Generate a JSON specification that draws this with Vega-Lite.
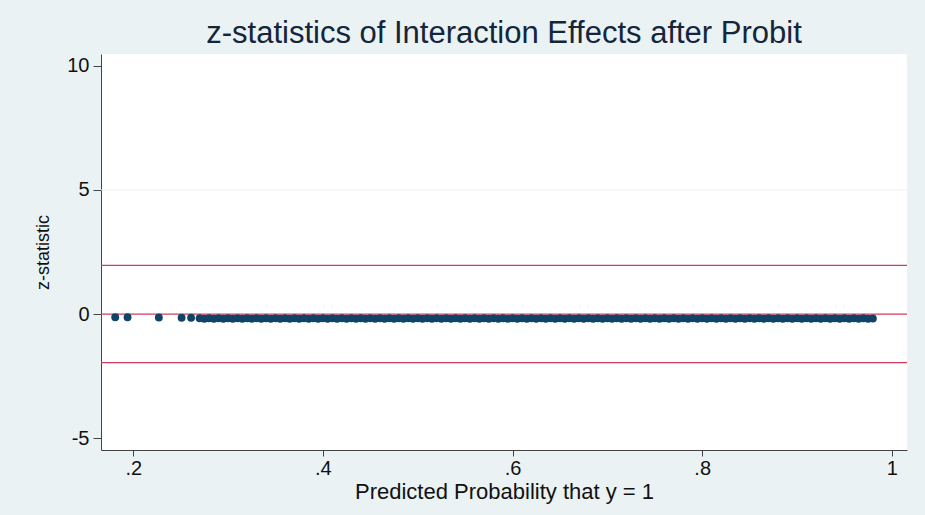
{
  "$schema": "https://vega.github.io/schema/vega-lite/v6.json",
  "autosize": {"type": "none"},
  "width": 806,
  "height": 396,
  "padding": {"left": 101, "top": 54, "right": 18, "bottom": 65},
  "background": "#eaf2f3",
  "title": {"text": "z-statistics of Interaction Effects after Probit", "font": "Liberation Sans", "fontSize": 31, "fontWeight": "normal", "color": "#14263b", "anchor": "middle", "offset": 4},
  "config": {
    "view": {"fill": "white", "stroke": null},
    "axis": {"labelFont": "Liberation Sans", "titleFont": "Liberation Sans", "labelColor": "#111", "titleColor": "#111", "domainColor": "#444", "tickColor": "#444", "titleFontWeight": "normal", "grid": false}
  },
  "layer": [
    {
      "data": {"values": [{"g": 5}]},
      "mark": {"type": "rule", "color": "#eaf2f3", "strokeWidth": 1},
      "encoding": {"y": {"field": "g", "type": "quantitative", "scale": {"domain": [-5.48, 10.48]}}}
    },
    {
      "data": {"values": [{"r": -1.96}, {"r": 0}, {"r": 1.96}]},
      "mark": {"type": "rule", "color": "#d23c5a", "strokeWidth": 1.3},
      "encoding": {"y": {"field": "r", "type": "quantitative"}}
    },
    {
      "data": {"values": [
        {"p": 0.181, "z": -0.13}, {"p": 0.194, "z": -0.13}, {"p": 0.227, "z": -0.14}, {"p": 0.251, "z": -0.15}, {"p": 0.261, "z": -0.15},
        {"p": 0.270, "z": -0.17}, {"p": 0.275, "z": -0.19}, {"p": 0.280, "z": -0.17}, {"p": 0.285, "z": -0.19}, {"p": 0.290, "z": -0.17},
        {"p": 0.295, "z": -0.19}, {"p": 0.300, "z": -0.17}, {"p": 0.305, "z": -0.19}, {"p": 0.310, "z": -0.17}, {"p": 0.315, "z": -0.19},
        {"p": 0.320, "z": -0.17}, {"p": 0.325, "z": -0.19}, {"p": 0.330, "z": -0.17}, {"p": 0.335, "z": -0.19}, {"p": 0.340, "z": -0.17},
        {"p": 0.345, "z": -0.19}, {"p": 0.350, "z": -0.17}, {"p": 0.355, "z": -0.19}, {"p": 0.360, "z": -0.17}, {"p": 0.365, "z": -0.19},
        {"p": 0.370, "z": -0.17}, {"p": 0.375, "z": -0.19}, {"p": 0.380, "z": -0.17}, {"p": 0.385, "z": -0.19}, {"p": 0.390, "z": -0.17},
        {"p": 0.395, "z": -0.19}, {"p": 0.400, "z": -0.17}, {"p": 0.405, "z": -0.19}, {"p": 0.410, "z": -0.17}, {"p": 0.415, "z": -0.19},
        {"p": 0.420, "z": -0.17}, {"p": 0.425, "z": -0.19}, {"p": 0.430, "z": -0.17}, {"p": 0.435, "z": -0.19}, {"p": 0.440, "z": -0.17},
        {"p": 0.445, "z": -0.19}, {"p": 0.450, "z": -0.17}, {"p": 0.455, "z": -0.19}, {"p": 0.460, "z": -0.17}, {"p": 0.465, "z": -0.19},
        {"p": 0.470, "z": -0.17}, {"p": 0.475, "z": -0.19}, {"p": 0.480, "z": -0.17}, {"p": 0.485, "z": -0.19}, {"p": 0.490, "z": -0.17},
        {"p": 0.495, "z": -0.19}, {"p": 0.500, "z": -0.17}, {"p": 0.505, "z": -0.19}, {"p": 0.510, "z": -0.17}, {"p": 0.515, "z": -0.19},
        {"p": 0.520, "z": -0.17}, {"p": 0.525, "z": -0.19}, {"p": 0.530, "z": -0.17}, {"p": 0.535, "z": -0.19}, {"p": 0.540, "z": -0.17},
        {"p": 0.545, "z": -0.19}, {"p": 0.550, "z": -0.17}, {"p": 0.555, "z": -0.19}, {"p": 0.560, "z": -0.17}, {"p": 0.565, "z": -0.19},
        {"p": 0.570, "z": -0.17}, {"p": 0.575, "z": -0.19}, {"p": 0.580, "z": -0.17}, {"p": 0.585, "z": -0.19}, {"p": 0.590, "z": -0.17},
        {"p": 0.595, "z": -0.19}, {"p": 0.600, "z": -0.17}, {"p": 0.605, "z": -0.19}, {"p": 0.610, "z": -0.17}, {"p": 0.615, "z": -0.19},
        {"p": 0.620, "z": -0.17}, {"p": 0.625, "z": -0.19}, {"p": 0.630, "z": -0.17}, {"p": 0.635, "z": -0.19}, {"p": 0.640, "z": -0.17},
        {"p": 0.645, "z": -0.19}, {"p": 0.650, "z": -0.17}, {"p": 0.655, "z": -0.19}, {"p": 0.660, "z": -0.17}, {"p": 0.665, "z": -0.19},
        {"p": 0.670, "z": -0.17}, {"p": 0.675, "z": -0.19}, {"p": 0.680, "z": -0.17}, {"p": 0.685, "z": -0.19}, {"p": 0.690, "z": -0.17},
        {"p": 0.695, "z": -0.19}, {"p": 0.700, "z": -0.17}, {"p": 0.705, "z": -0.19}, {"p": 0.710, "z": -0.17}, {"p": 0.715, "z": -0.19},
        {"p": 0.720, "z": -0.17}, {"p": 0.725, "z": -0.19}, {"p": 0.730, "z": -0.17}, {"p": 0.735, "z": -0.19}, {"p": 0.740, "z": -0.17},
        {"p": 0.745, "z": -0.19}, {"p": 0.750, "z": -0.17}, {"p": 0.755, "z": -0.19}, {"p": 0.760, "z": -0.17}, {"p": 0.765, "z": -0.19},
        {"p": 0.770, "z": -0.17}, {"p": 0.775, "z": -0.19}, {"p": 0.780, "z": -0.17}, {"p": 0.785, "z": -0.19}, {"p": 0.790, "z": -0.17},
        {"p": 0.795, "z": -0.19}, {"p": 0.800, "z": -0.17}, {"p": 0.805, "z": -0.19}, {"p": 0.810, "z": -0.17}, {"p": 0.815, "z": -0.19},
        {"p": 0.820, "z": -0.17}, {"p": 0.825, "z": -0.19}, {"p": 0.830, "z": -0.17}, {"p": 0.835, "z": -0.19}, {"p": 0.840, "z": -0.17},
        {"p": 0.845, "z": -0.19}, {"p": 0.850, "z": -0.17}, {"p": 0.855, "z": -0.19}, {"p": 0.860, "z": -0.17}, {"p": 0.865, "z": -0.19},
        {"p": 0.870, "z": -0.17}, {"p": 0.875, "z": -0.19}, {"p": 0.880, "z": -0.17}, {"p": 0.885, "z": -0.19}, {"p": 0.890, "z": -0.17},
        {"p": 0.895, "z": -0.19}, {"p": 0.900, "z": -0.17}, {"p": 0.905, "z": -0.19}, {"p": 0.910, "z": -0.17}, {"p": 0.915, "z": -0.19},
        {"p": 0.920, "z": -0.17}, {"p": 0.925, "z": -0.19}, {"p": 0.930, "z": -0.17}, {"p": 0.935, "z": -0.19}, {"p": 0.940, "z": -0.17},
        {"p": 0.945, "z": -0.19}, {"p": 0.950, "z": -0.17}, {"p": 0.955, "z": -0.19}, {"p": 0.960, "z": -0.17}, {"p": 0.965, "z": -0.19},
        {"p": 0.970, "z": -0.17}, {"p": 0.975, "z": -0.19}, {"p": 0.980, "z": -0.18}
      ]},
      "mark": {"type": "point", "shape": "circle", "filled": true, "opacity": 1, "size": 62, "color": "#0f4468"},
      "encoding": {
        "x": {"field": "p", "type": "quantitative", "scale": {"domain": [0.166, 1.016], "nice": false, "zero": false},
          "axis": {"values": [0.2, 0.4, 0.6, 0.8, 1], "title": "Predicted Probability that y = 1", "labelFontSize": 20, "titleFontSize": 22, "tickSize": 6, "labelPadding": 2, "titlePadding": 3,
            "labelExpr": "replace(format(datum.value, '.1~f'), '0.', '.')"}},
        "y": {"field": "z", "type": "quantitative", "scale": {"domain": [-5.48, 10.48], "nice": false, "zero": false},
          "axis": {"values": [-5, 0, 5, 10], "title": "z-statistic", "labelFontSize": 20, "titleFontSize": 18, "tickSize": 8, "labelPadding": 4, "titlePadding": 14,
            "labelExpr": "'' + datum.value"}}
      }
    }
  ]
}
